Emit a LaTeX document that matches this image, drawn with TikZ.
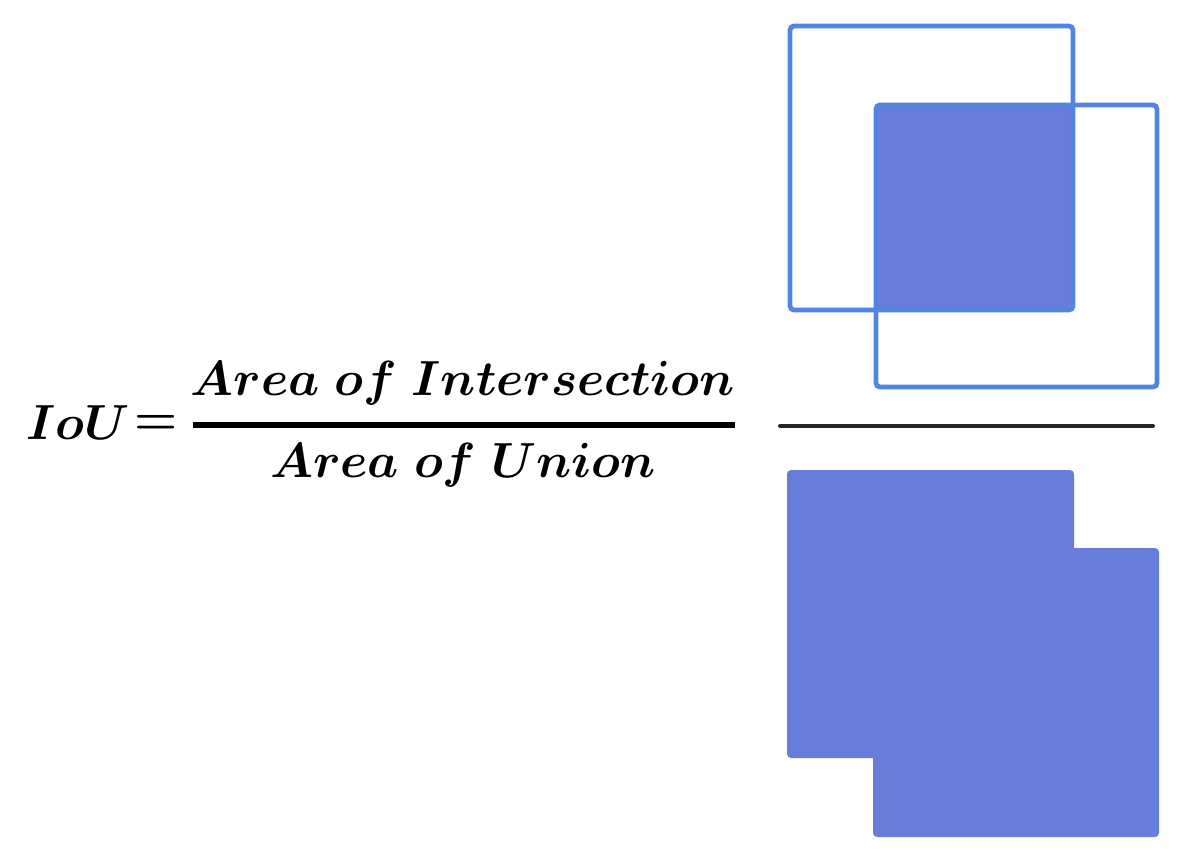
\documentclass[tikz,border=0pt]{standalone}
\usepackage{fix-cm}
\definecolor{boxline}{RGB}{84,132,225}
\definecolor{boxfill}{RGB}{104,124,218}
\tikzset{
  outlinebox/.style={draw=boxline, line width=3.6pt, rounded corners=3pt},
  fillbox/.style={fill=boxfill, rounded corners=3pt},
  formula/.style={inner sep=0pt, font=\fontsize{37}{44}\selectfont\boldmath},
}
\begin{document}
\begin{tikzpicture}[x=0.75pt,y=-0.75pt]
\useasboundingbox (0,0) rectangle (1194,860);
\node[formula, anchor=base west] (iou) at (26,439) {$IoU$};
\node[formula] (eq) at (156,425) {$=$};
\node[formula, anchor=base] (num) at (463,395) {$Area\ of\ Intersection$};
\node[formula, anchor=base] (den) at (463,477) {$Area\ of\ Union$};
\coordinate (barl) at (193,425);
\coordinate (barr) at (735,425);
\draw[line width=4.5pt] (barl) -- (barr);
\fill[fillbox] (875,103) rectangle (1073,310);
\draw[outlinebox] (790,26) rectangle (1073,310);
\draw[outlinebox] (876,105) rectangle (1157,387);
\coordinate (linel) at (780,426);
\coordinate (liner) at (1153,426);
\draw[line width=3pt, black!85, line cap=round] (linel) -- (liner);
\fill[fillbox] (787,470) rectangle (1074,758);
\fill[fillbox] (873,548) rectangle (1159,837);
\end{tikzpicture}
\end{document}
